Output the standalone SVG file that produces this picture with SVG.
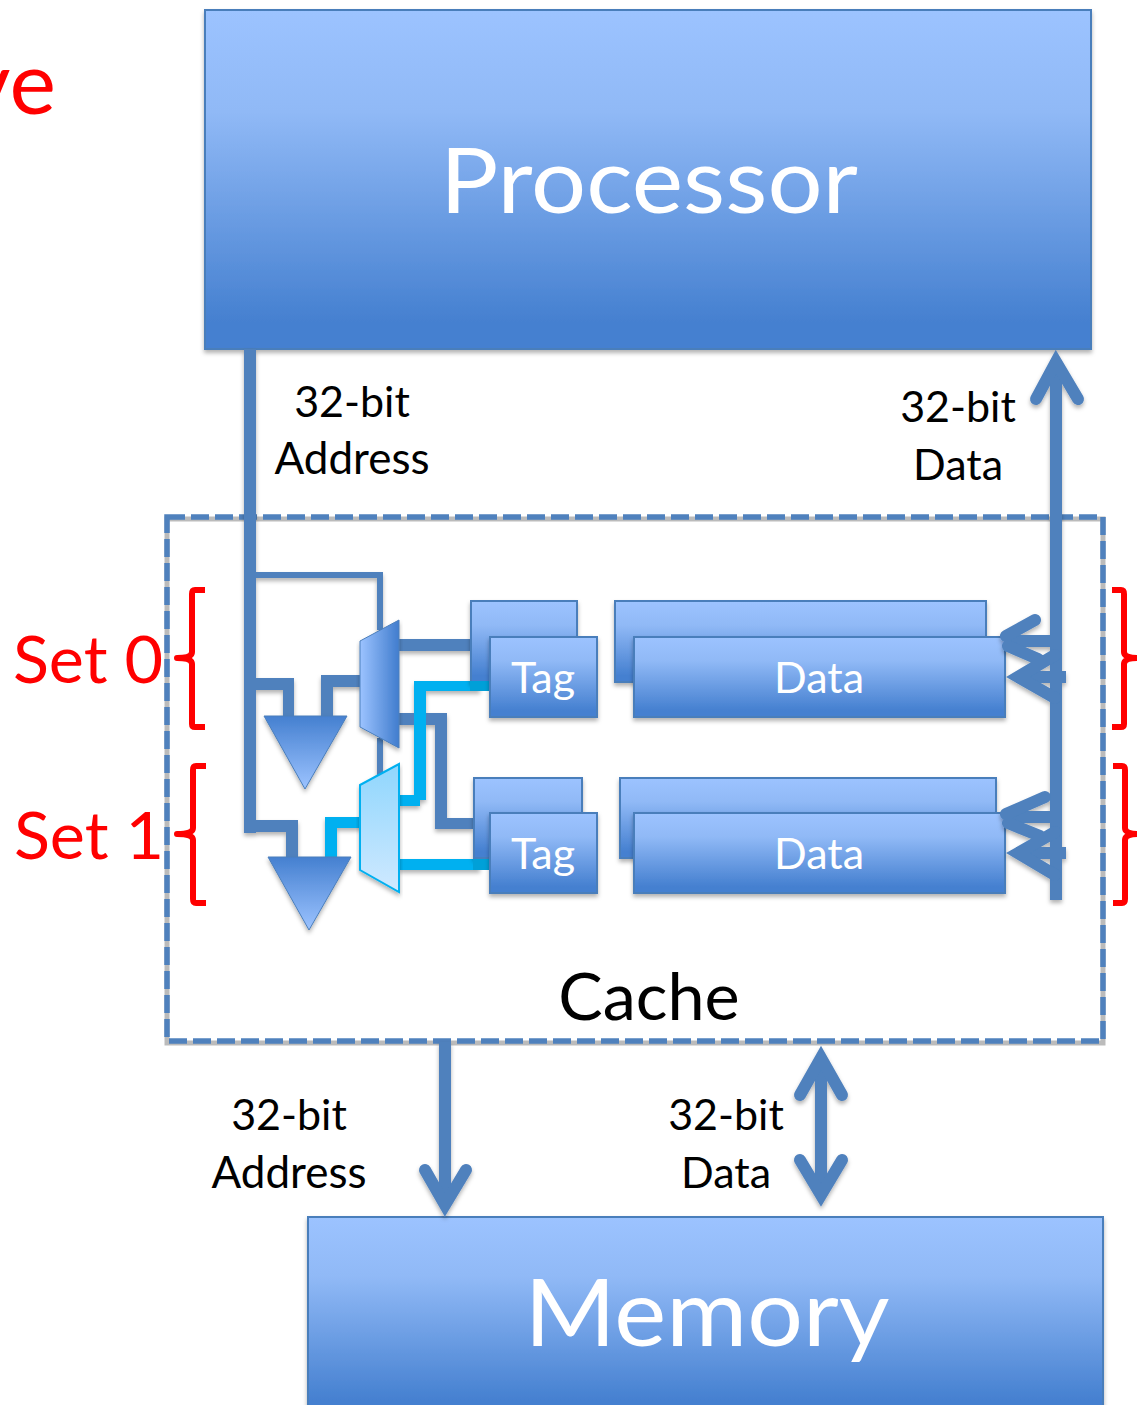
<svg xmlns="http://www.w3.org/2000/svg" width="1137" height="1405" viewBox="0 0 1137 1405">
<style>
text{font-family:"Lato","Carlito","Open Sans",sans-serif}
.w{fill:#fff;text-anchor:middle}
.k{fill:#000;text-anchor:middle;font-size:43px}
.r{fill:#f00;font-size:66.5px;text-anchor:middle}
.box{fill:url(#g);stroke:#4a7ebb;stroke-width:2;filter:url(#s)}
.l{fill:#4f81bd}
.c{fill:#00b0f0}
.a{fill:none;stroke:#4f81bd;stroke-width:12;stroke-linecap:round;stroke-linejoin:miter}
.ab{fill:none;stroke:#4f81bd;stroke-width:12}
.b{fill:none;stroke:#f00;stroke-width:6;stroke-linejoin:round}
</style>
<defs>
<linearGradient id="g" x1="0" y1="0" x2="0" y2="1"><stop offset="0" stop-color="#9cc3ff"/><stop offset=".3" stop-color="#90b9f6"/><stop offset=".92" stop-color="#4580d0"/><stop offset="1" stop-color="#4580d0"/></linearGradient>
<linearGradient id="gu" x1="0" y1="0" x2="0" y2="1"><stop offset="0" stop-color="#4580d0"/><stop offset="1" stop-color="#9cc3ff"/></linearGradient>
<linearGradient id="gm" x1="0" y1="0" x2="1" y2="0"><stop offset="0" stop-color="#9cc3ff"/><stop offset=".95" stop-color="#4580d0"/></linearGradient>
<linearGradient id="gc" x1="0" y1="0" x2="0" y2="1"><stop offset="0" stop-color="#8fd6fd"/><stop offset="1" stop-color="#cfe9ff"/></linearGradient>
<filter id="s" x="-10%" y="-10%" width="120%" height="125%"><feDropShadow dx="0" dy="3" stdDeviation="2" flood-color="#000" flood-opacity=".3"/></filter>
</defs>
<text id="partial-title" x="56" y="114" fill="#f00" font-size="88" text-anchor="end">ve</text>
<g id="processor"><rect class="box" x="205" y="10" width="886" height="339"/><text class="w" x="649" y="213" font-size="92" textLength="418" lengthAdjust="spacingAndGlyphs">Processor</text></g>
<g id="memory"><rect class="box" x="308" y="1217" width="795" height="200"/><text class="w" x="707" y="1346" font-size="94" textLength="365" lengthAdjust="spacingAndGlyphs">Memory</text></g>
<g id="cache"><rect x="167" y="519" width="936" height="524" fill="none" stroke="#bbb" stroke-width="5"/><rect x="167" y="517" width="936" height="524" fill="none" stroke="#4f81bd" stroke-width="5.5" stroke-dasharray="18 6"/><text x="649" y="1020" fill="#000" text-anchor="middle" font-size="66.5">Cache</text></g>
<g id="connectors">
<g filter="url(#s)">
<rect class="l" x="244" y="349" width="12" height="484"/>
<path class="l" d="M256 572H383V630H377V578H256Z"/>
<rect class="l" x="377" y="738" width="6" height="40"/>
<path class="l" d="M256 678H294V716H283V690H256Z"/>
<path class="l" d="M321 675H362V687H333V716H321Z"/>
<path class="l" d="M256 820H298V857H286V832H256Z"/>
<rect class="l" x="399" y="639" width="72" height="12"/>
<path class="l" d="M399 713H447V818H473V829H435V725H399Z"/>
<path class="c" d="M325 817H363V828H337V857H325Z"/>
<path class="c" d="M399 795H414V681H480V691H426V800H420V806H399Z"/>
<rect class="c" x="399" y="859" width="81" height="11"/>
</g>
</g>
<g id="tag-0-back"><rect class="box" x="471" y="601" width="106" height="81"/></g>
<g id="data-0-back"><rect class="box" x="615" y="601" width="371" height="81"/></g>
<g id="tag-1-back"><rect class="box" x="474" y="778" width="108" height="80"/></g>
<g id="data-1-back"><rect class="box" x="620" y="778" width="376" height="80"/></g>
<g id="cyan-over-back"><rect x="470" y="681" width="20" height="10" fill="#00a0d8"/><rect x="473" y="859" width="17" height="11" fill="#00a0d8"/></g>
<g id="tag-0"><rect class="box" x="490" y="637" width="107" height="80"/><text class="w" x="543" y="693" font-size="43">Tag</text></g>
<g id="data-0"><rect class="box" x="634" y="637" width="371" height="80"/><text class="w" x="819" y="693" font-size="43">Data</text></g>
<g id="tag-1"><rect class="box" x="490" y="813" width="107" height="80"/><text class="w" x="543" y="869" font-size="43">Tag</text></g>
<g id="data-1"><rect class="box" x="634" y="813" width="371" height="80"/><text class="w" x="819" y="869" font-size="43">Data</text></g>
<g id="mux-0"><polygon points="360,641 399,620 399,748 360,727" fill="url(#gm)" stroke="#4a7ebb" filter="url(#s)"/></g>
<g id="mux-1"><polygon points="360,785 399,764 399,892 360,870" fill="url(#gc)" stroke="#00b0f0" stroke-width="2" filter="url(#s)"/></g>
<g id="comparator-0"><polygon points="264,716 347,716 305,789" fill="url(#gu)" stroke="#4a7ebb" filter="url(#s)"/></g>
<g id="comparator-1"><polygon points="268,857 351,857 309,930" fill="url(#gu)" stroke="#4a7ebb" filter="url(#s)"/></g>
<g id="data-connectors" filter="url(#s)">
<path class="ab" d="M1056 900V360"/>
<path class="a" d="M1036 399L1056 362L1078 399"/>
<path class="ab" d="M1008 641H1057M1016 677H1066M1008 817H1057M1016 853H1066"/>
<path class="a" d="M1035 620L1006 636M1008 646L1038 659M1055 655L1018 677L1055 698M1045 797L1006 814M1008 823L1040 836M1055 832L1018 853L1055 875"/>
<path class="ab" d="M445 1042V1204"/>
<path class="a" d="M425 1170L445 1205L466 1170"/>
<path class="ab" d="M821 1060V1196"/>
<path class="a" d="M800 1095L821 1058L842 1095M800 1160L821 1195L842 1160"/>
</g>
<g id="labels">
<text class="k" x="352" y="417">32-bit</text><text class="k" x="352" y="474" style="font-size:44px">Address</text>
<text class="k" x="958" y="422">32-bit</text><text class="k" x="958" y="480">Data</text>
<text class="k" x="289" y="1130">32-bit</text><text class="k" x="289" y="1188" style="font-size:44px">Address</text>
<text class="k" x="726" y="1130">32-bit</text><text class="k" x="726" y="1188">Data</text>
</g>
<g id="set-0"><text class="r" x="88" y="683">Set 0</text><path class="b" d="M205 590H195Q192 590 192 594V652Q192 658 177 658Q192 658 192 664V724Q192 727 195 727H205"/><path class="b" d="M1112 590H1121Q1124 590 1124 594V652Q1124 658 1139 658Q1124 658 1124 664V724Q1124 727 1121 727H1112"/></g>
<g id="set-1"><text class="r" x="89" y="859">Set 1</text><path class="b" d="M206 766H196Q193 766 193 770V828Q193 834 177 834Q193 834 193 840V899Q193 903 196 903H206"/><path class="b" d="M1113 766H1122Q1125 766 1125 770V828Q1125 834 1140 834Q1125 834 1125 840V899Q1125 903 1122 903H1113"/></g>
</svg>
